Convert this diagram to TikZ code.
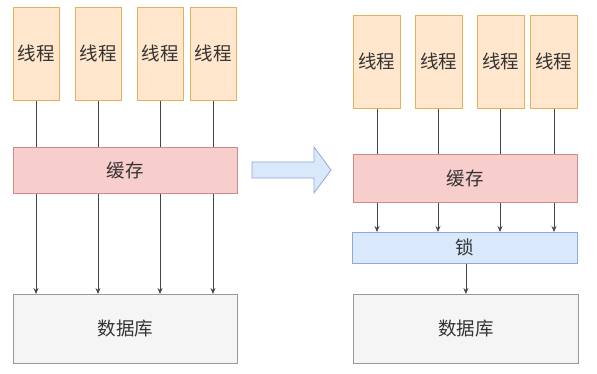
\documentclass[tikz,border=0pt]{standalone}
\usepackage{fontspec}
\setmainfont{Noto Sans CJK SC}
\usetikzlibrary{arrows.meta}
\definecolor{thrfill}{HTML}{FFE6CC}
\definecolor{thrdraw}{HTML}{E0B25C}
\definecolor{cachefill}{HTML}{F8CECC}
\definecolor{cachedraw}{HTML}{CF8A87}
\definecolor{lockfill}{HTML}{DAE8FC}
\definecolor{lockdraw}{HTML}{8FA9D4}
\definecolor{dbfill}{HTML}{F5F5F5}
\definecolor{dbdraw}{HTML}{999999}
\definecolor{txt}{HTML}{333333}
\definecolor{conn}{HTML}{444444}
\begin{document}
\begin{tikzpicture}[x=1pt,y=-1pt,
  box/.style={draw,line width=0.8pt,anchor=north west,inner sep=0pt,text=txt,font=\fontsize{18.5}{22}\selectfont},
  thr/.style={box,fill=thrfill,draw=thrdraw},
  cache/.style={box,fill=cachefill,draw=cachedraw},
  lockbox/.style={box,fill=lockfill,draw=lockdraw},
  db/.style={box,fill=dbfill,draw=dbdraw},
  link/.style={draw=conn,line width=0.8pt},
  arr/.style={link,-{Stealth[length=6pt,width=5pt]}},
  bigarrow/.style={draw=lockdraw,fill=lockfill,line width=0.8pt,line join=miter}]
\useasboundingbox (0,0) rectangle (597,373);
% left side
\node[thr,minimum width=46pt,minimum height=93pt] (l1) at (13,7) {线程};
\node[thr,minimum width=46pt,minimum height=93pt] (l2) at (75,7) {线程};
\node[thr,minimum width=46pt,minimum height=93pt] (l3) at (137,7) {线程};
\node[thr,minimum width=46pt,minimum height=93pt] (l4) at (190,7) {线程};
\node[cache,minimum width=224pt,minimum height=46pt] (lc) at (13,147) {缓存};
\node[db,minimum width=224pt,minimum height=69pt] (ld) at (13,294) {数据库};
\coordinate (lc1) at (36,147); \coordinate (lc2) at (98,147);
\coordinate (lc3) at (160,147); \coordinate (lc4) at (213,147);
\draw[link] (l1.south -| lc1) -- (lc1);
\draw[link] (l2.south -| lc2) -- (lc2);
\draw[link] (l3.south -| lc3) -- (lc3);
\draw[link] (l4.south -| lc4) -- (lc4);
\draw[arr] (lc.south -| lc1) -- (ld.north -| lc1);
\draw[arr] (lc.south -| lc2) -- (ld.north -| lc2);
\draw[arr] (lc.south -| lc3) -- (ld.north -| lc3);
\draw[arr] (lc.south -| lc4) -- (ld.north -| lc4);
% big arrow
\draw[bigarrow] (252,162) -- (314,162) -- (314,147) -- (331,170) -- (314,193) -- (314,178) -- (252,178) -- cycle;
% right side
\node[thr,minimum width=47pt,minimum height=93pt] (r1) at (353,15) {线程};
\node[thr,minimum width=47pt,minimum height=93pt] (r2) at (415,15) {线程};
\node[thr,minimum width=47pt,minimum height=93pt] (r3) at (477,15) {线程};
\node[thr,minimum width=47pt,minimum height=93pt] (r4) at (530,15) {线程};
\node[cache,minimum width=224pt,minimum height=48pt] (rc) at (353,154) {缓存};
\node[lockbox,minimum width=225pt,minimum height=31pt] (rl) at (352,232) {锁};
\node[db,minimum width=225pt,minimum height=69pt] (rd) at (353,294) {数据库};
\coordinate (rc1) at (377,154); \coordinate (rc2) at (438,154);
\coordinate (rc3) at (500,154); \coordinate (rc4) at (554,154);
\draw[link] (r1.south -| rc1) -- (rc1);
\draw[link] (r2.south -| rc2) -- (rc2);
\draw[link] (r3.south -| rc3) -- (rc3);
\draw[link] (r4.south -| rc4) -- (rc4);
\draw[arr] (rc.south -| rc1) -- (rl.north -| rc1);
\draw[arr] (rc.south -| rc2) -- (rl.north -| rc2);
\draw[arr] (rc.south -| rc3) -- (rl.north -| rc3);
\draw[arr] (rc.south -| rc4) -- (rl.north -| rc4);
\draw[arr] (rl.south -| rd.north) -- (rd.north);
\end{tikzpicture}
\end{document}
